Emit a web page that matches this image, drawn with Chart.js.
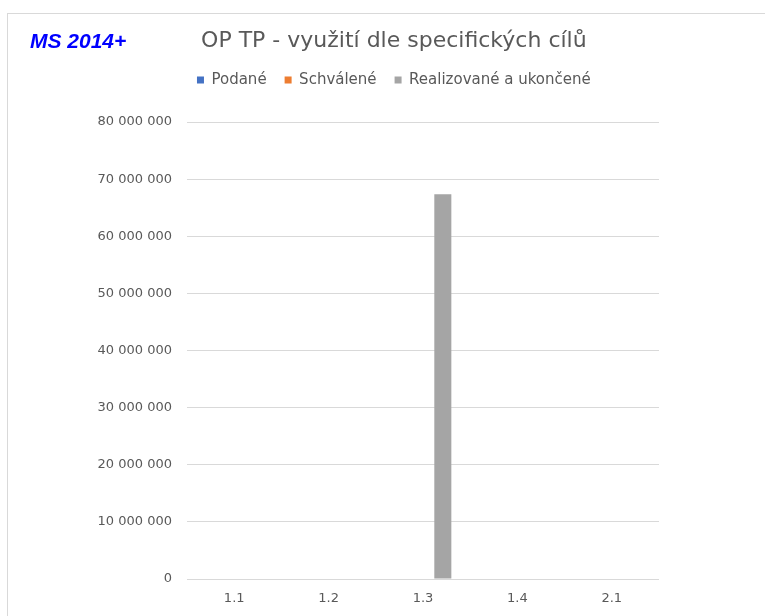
<!DOCTYPE html>
<html>
<head>
<meta charset="utf-8">
<script src="https://cdn.jsdelivr.net/npm/chart.js@4/dist/chart.umd.min.js"></script>
<style>
  html, body { margin: 0; padding: 0; background: #fff; }
  #wrap { position: relative; width: 765px; height: 616px; overflow: hidden; }
  #frame { position: absolute; left: 7px; top: 13px; width: 800px; height: 700px;
           border-top: 1px solid #d9d9d9; border-left: 1px solid #d9d9d9; }
  #tag { position: absolute; left: 30px; top: 29px; font: italic bold 21px "Liberation Sans", Arial, sans-serif;
         color: #0000ff; white-space: nowrap; }
  canvas { position: absolute; left: 0; top: 0; }
</style>
</head>
<body>
<div id="wrap">
  <div id="frame"></div>
  <canvas id="myChart" width="765" height="619"></canvas>
  <div id="tag">MS 2014+</div>
</div>
<script>
// data
const categories = ['1.1', '1.2', '1.3', '1.4', '2.1'];
const seriesNames = ['Podané', 'Schválené', 'Realizované a ukončené'];
const podane = [0, 0, 0, 0, 0];
const schvalene = [0, 0, 0, 0, 0];
const realizovane = [0, 0, 67370000, 0, 0];
const yTicks = [0, 10000000, 20000000, 30000000, 40000000, 50000000, 60000000, 70000000, 80000000];

const font = '"DejaVu Sans", Verdana, sans-serif';
const grey = '#595959';

function fmt(v) {
    return String(v).replace(/\B(?=(\d{3})+(?!\d))/g, ' ');
}

function init() {
    const ctx = document.getElementById('myChart').getContext('2d');
    const myChart = new Chart(ctx, {
        type: 'bar',
        data: {
            labels: categories,
            datasets: [
                { label: seriesNames[0], data: podane, backgroundColor: '#4472c4' },
                { label: seriesNames[1], data: schvalene, backgroundColor: '#ed7d31' },
                { label: seriesNames[2], data: realizovane, backgroundColor: '#a5a5a5' }
            ]
        },
        options: {
            responsive: false,
            animation: false,
            devicePixelRatio: 1,
            categoryPercentage: 0.63,
            barPercentage: 0.86,
            layout: {
                padding: { left: 88, right: 65.3, top: 0, bottom: 0 }
            },
            plugins: {
                tooltip: { enabled: false },
                title: {
                    display: true,
                    text: 'OP TP - využití dle specifických cílů',
                    color: grey,
                    font: { family: font, size: 22, weight: 'normal' },
                    padding: { top: 27.8, bottom: 0.3 }
                },
                legend: {
                    display: true,
                    position: 'top',
                    labels: {
                        color: grey,
                        boxWidth: 7,
                        boxHeight: 7,
                        padding: 18,
                        font: { family: font, size: 15 }
                    }
                },
                // empty spacer between legend and plot
                subtitle: {
                    display: true,
                    text: '',
                    weight: 500,
                    font: { size: 1, lineHeight: 1 },
                    padding: { top: 23.5, bottom: 0 }
                }
            },
            scales: {
                x: {
                    grid: { display: false, drawTicks: false },
                    border: { display: false },
                    ticks: {
                        color: grey,
                        padding: 14.4,
                        font: { family: font, size: 13, lineHeight: 0.86 }
                    }
                },
                y: {
                    min: 0,
                    max: 80000000,
                    afterFit: function (scale) { scale.width = 99; },
                    afterBuildTicks: function (scale) {
                        scale.ticks = yTicks.map(v => ({ value: v }));
                    },
                    grid: { color: '#d9d9d9', lineWidth: 1, drawTicks: false },
                    border: { display: false },
                    ticks: {
                        color: grey,
                        padding: 15,
                        font: { family: font, size: 13 },
                        callback: function (v) { return fmt(v); }
                    }
                },
                // empty right-hand space, no marks
                yRight: {
                    position: 'right',
                    display: true,
                    afterFit: function (scale) { scale.width = 40.7; },
                    grid: { display: false, drawTicks: false },
                    border: { display: false },
                    ticks: { display: false }
                }
            }
        }
    });
}

window.addEventListener('DOMContentLoaded', init);
</script>
</body>
</html>
